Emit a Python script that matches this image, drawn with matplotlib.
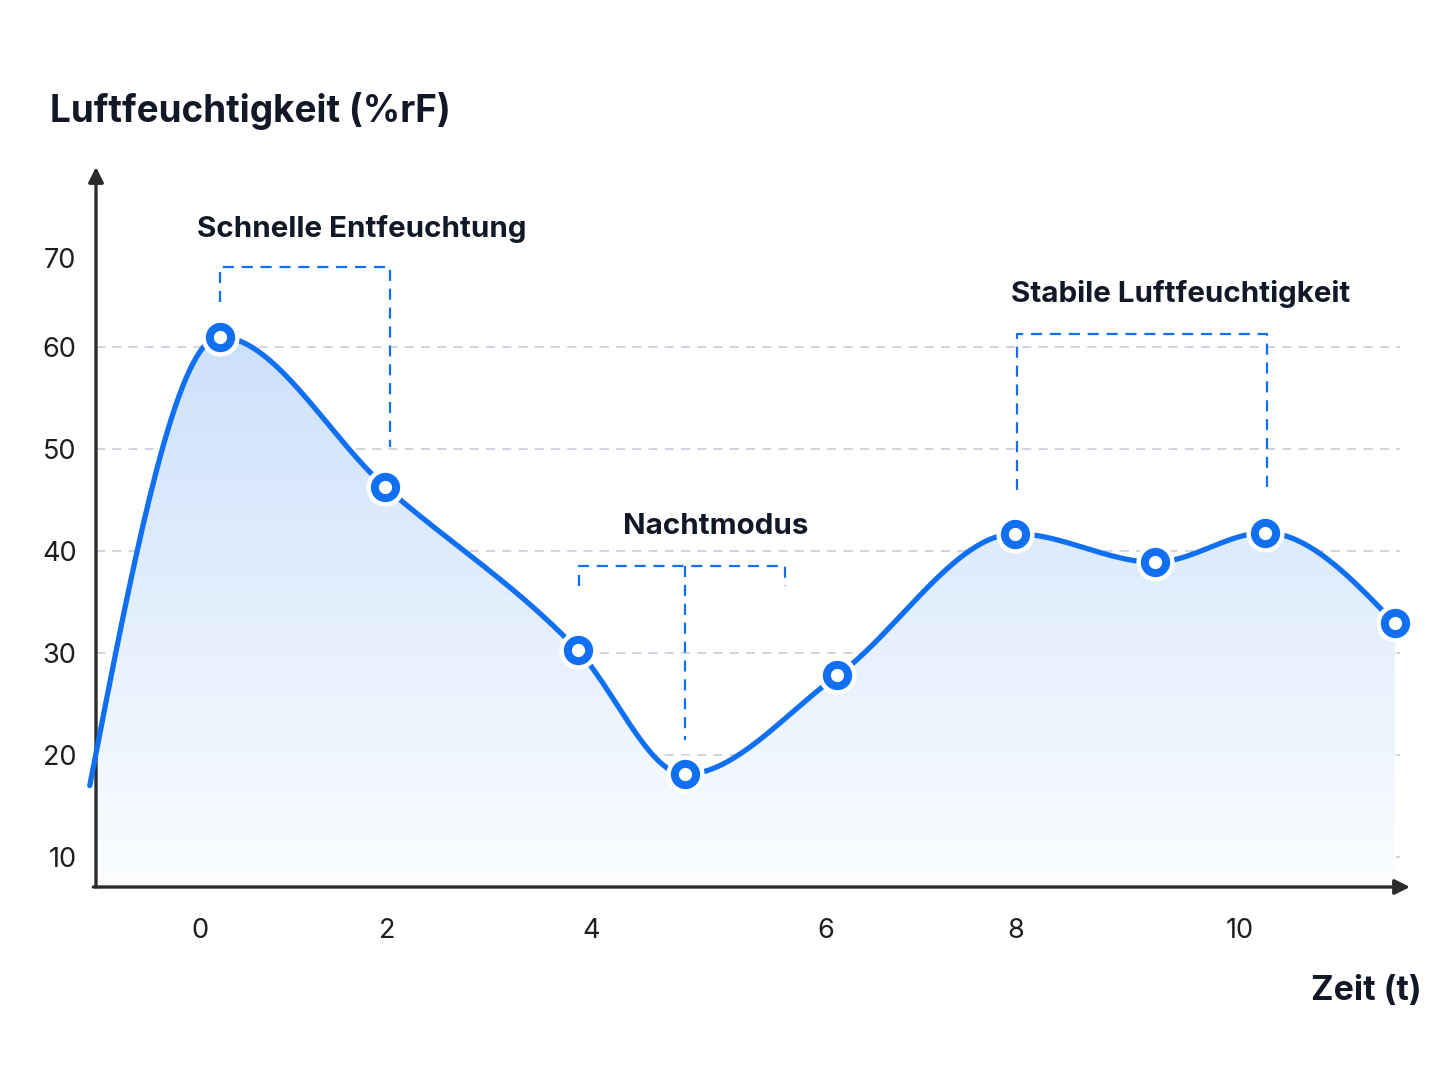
import matplotlib.pyplot as plt
import numpy as np
from matplotlib.colors import LinearSegmentedColormap

# data
zeit = [-1.06, 0.19, 1.78, 3.63, 4.66, 6.13, 7.84, 9.18, 10.24, 11.49]
feuchte = [17.0, 61.0, 46.3, 30.3, 18.1, 27.8, 41.7, 38.9, 41.8, 32.9]
x_tick_pos = [0, 1.80, 3.76, 6.02, 7.84, 10.0]
x_tick_labels = ['0', '2', '4', '6', '8', '10']
y_tick_pos = [10, 20, 30, 40, 50, 60, 68.7]
y_tick_labels = ['10', '20', '30', '40', '50', '60', '70']
grid_y = [10, 20, 30, 40, 50, 60]
grid_x_idx = [1, 2, 3, 5, 6, 8]   # points that get a vertical guide

BLUE = '#1170f2'
DARK = '#111827'
GRID = '#cbd0dc'

plt.rcParams['font.family'] = ['Inter', 'DejaVu Sans']


def monotone_x(x, y, n=40):
    # d3 style monotone cubic curve
    x = np.asarray(x, float)
    y = np.asarray(y, float)
    h = np.diff(x)
    s = np.diff(y) / h
    t = np.zeros(len(x))
    for i in range(1, len(x) - 1):
        p = (s[i - 1] * h[i] + s[i] * h[i - 1]) / (h[i - 1] + h[i])
        t[i] = (np.sign(s[i - 1]) + np.sign(s[i])) * min(abs(s[i - 1]), abs(s[i]), 0.5 * abs(p))
    t[0] = (3 * s[0] - t[1]) / 2
    t[-1] = (3 * s[-1] - t[-2]) / 2
    xs, ys = [], []
    for i in range(len(x) - 1):
        u = np.linspace(0, 1, n)
        h00 = 2 * u**3 - 3 * u**2 + 1
        h10 = u**3 - 2 * u**2 + u
        h01 = -2 * u**3 + 3 * u**2
        h11 = u**3 - u**2
        xs.append(x[i] + u * h[i])
        ys.append(h00 * y[i] + h10 * h[i] * t[i] + h01 * y[i + 1] + h11 * h[i] * t[i + 1])
    return np.concatenate(xs), np.concatenate(ys)


fig = plt.figure(figsize=(14.47, 10.87), dpi=100)
ax = fig.add_axes([96 / 1447, 200 / 1087, (1410 - 96) / 1447, (887 - 167) / 1087])
x0, x1 = -1.0, 11.635
y0, y1 = 7.06, 77.65
for sp in ax.spines.values():
    sp.set_visible(False)

# grid
ax.hlines(grid_y, x0, 11.54, colors=GRID, linestyles=(0, (5, 4)), linewidth=1.3, zorder=1)
for i in grid_x_idx:
    ax.vlines(zeit[i], y0, feuchte[i], colors=GRID, linestyles=(0, (5, 4)), linewidth=1.3, zorder=1)

# curve + gradient fill
cx, cy = monotone_x(zeit, feuchte)
mask = cx >= x0
poly = ax.fill_between(cx[mask], cy[mask], y0, color='none', lw=0)
cmap = LinearSegmentedColormap.from_list('fade', ['#fbfdff', '#cce0fa'])
grad = np.linspace(0, 1, 256).reshape(-1, 1)
img = ax.imshow(grad, cmap=cmap, aspect='auto', origin='lower',
                extent=[x0, x1, y0, 62], zorder=2)
img.set_clip_path(poly.get_paths()[0], transform=ax.transData)
ax.set_xlim(x0, x1)
ax.set_ylim(y0, y1)

ax.plot(cx, cy, color=BLUE, lw=3.8, solid_capstyle='round', zorder=4, clip_on=False)
ax.plot(zeit[1:], feuchte[1:], 'o', ms=26.5, color='white', zorder=5)
ax.plot(zeit[1:], feuchte[1:], 'o', ms=15.3, mfc='white', mec=BLUE, mew=5.8, zorder=6)

# annotation brackets
dash = dict(color=BLUE, lw=1.6, ls=(0, (5, 3.5)), zorder=3)
ax.plot([0.19, 0.19, 1.83, 1.83], [64.4, 67.84, 67.84, 50.2], **dash)
ax.plot([3.64, 3.64, 5.63, 5.63], [36.57, 38.53, 38.53, 36.57], **dash)
ax.plot([4.66, 4.66], [38.53, 21.5], **dash)
ax.plot([7.86, 7.86, 10.26, 10.26], [46.0, 61.27, 61.27, 46.0], **dash)

lab = dict(fontsize=21.3, fontweight='bold', color=DARK, ha='center', va='center', zorder=7)
ax.text(1.56, 71.6, 'Schnelle Entfeuchtung', **lab)
ax.text(4.96, 42.45, 'Nachtmodus', **lab)
ax.text(9.43, 65.2, 'Stabile Luftfeuchtigkeit', **lab)

# axes with arrow heads
arrow = dict(arrowstyle='-|>,head_length=0.9,head_width=0.45', color='#2b2b2b', lw=2.4,
             shrinkA=0, shrinkB=0)
ax.annotate('', xy=(0, 1), xytext=(0, 0), xycoords='axes fraction', arrowprops=arrow)
ax.annotate('', xy=(1, 0), xytext=(-0.002, 0), xycoords='axes fraction', arrowprops=arrow)

ax.set_xticks(x_tick_pos, x_tick_labels)
ax.set_yticks(y_tick_pos, y_tick_labels)
ax.tick_params(length=0, labelsize=19.5, labelcolor='#1e1e1e')
ax.tick_params(axis='x', pad=22)
ax.tick_params(axis='y', pad=14)

fig.text(50 / 1447, 1 - 122 / 1087, 'Luftfeuchtigkeit (%rF)', fontsize=26.6,
         fontweight='bold', color=DARK, ha='left', va='baseline')
fig.text(1422 / 1447, 1 - 1000 / 1087, 'Zeit (t)', fontsize=24.5,
         fontweight='bold', color=DARK, ha='right', va='baseline')

fig.savefig('out.png', dpi=100, facecolor='white')
